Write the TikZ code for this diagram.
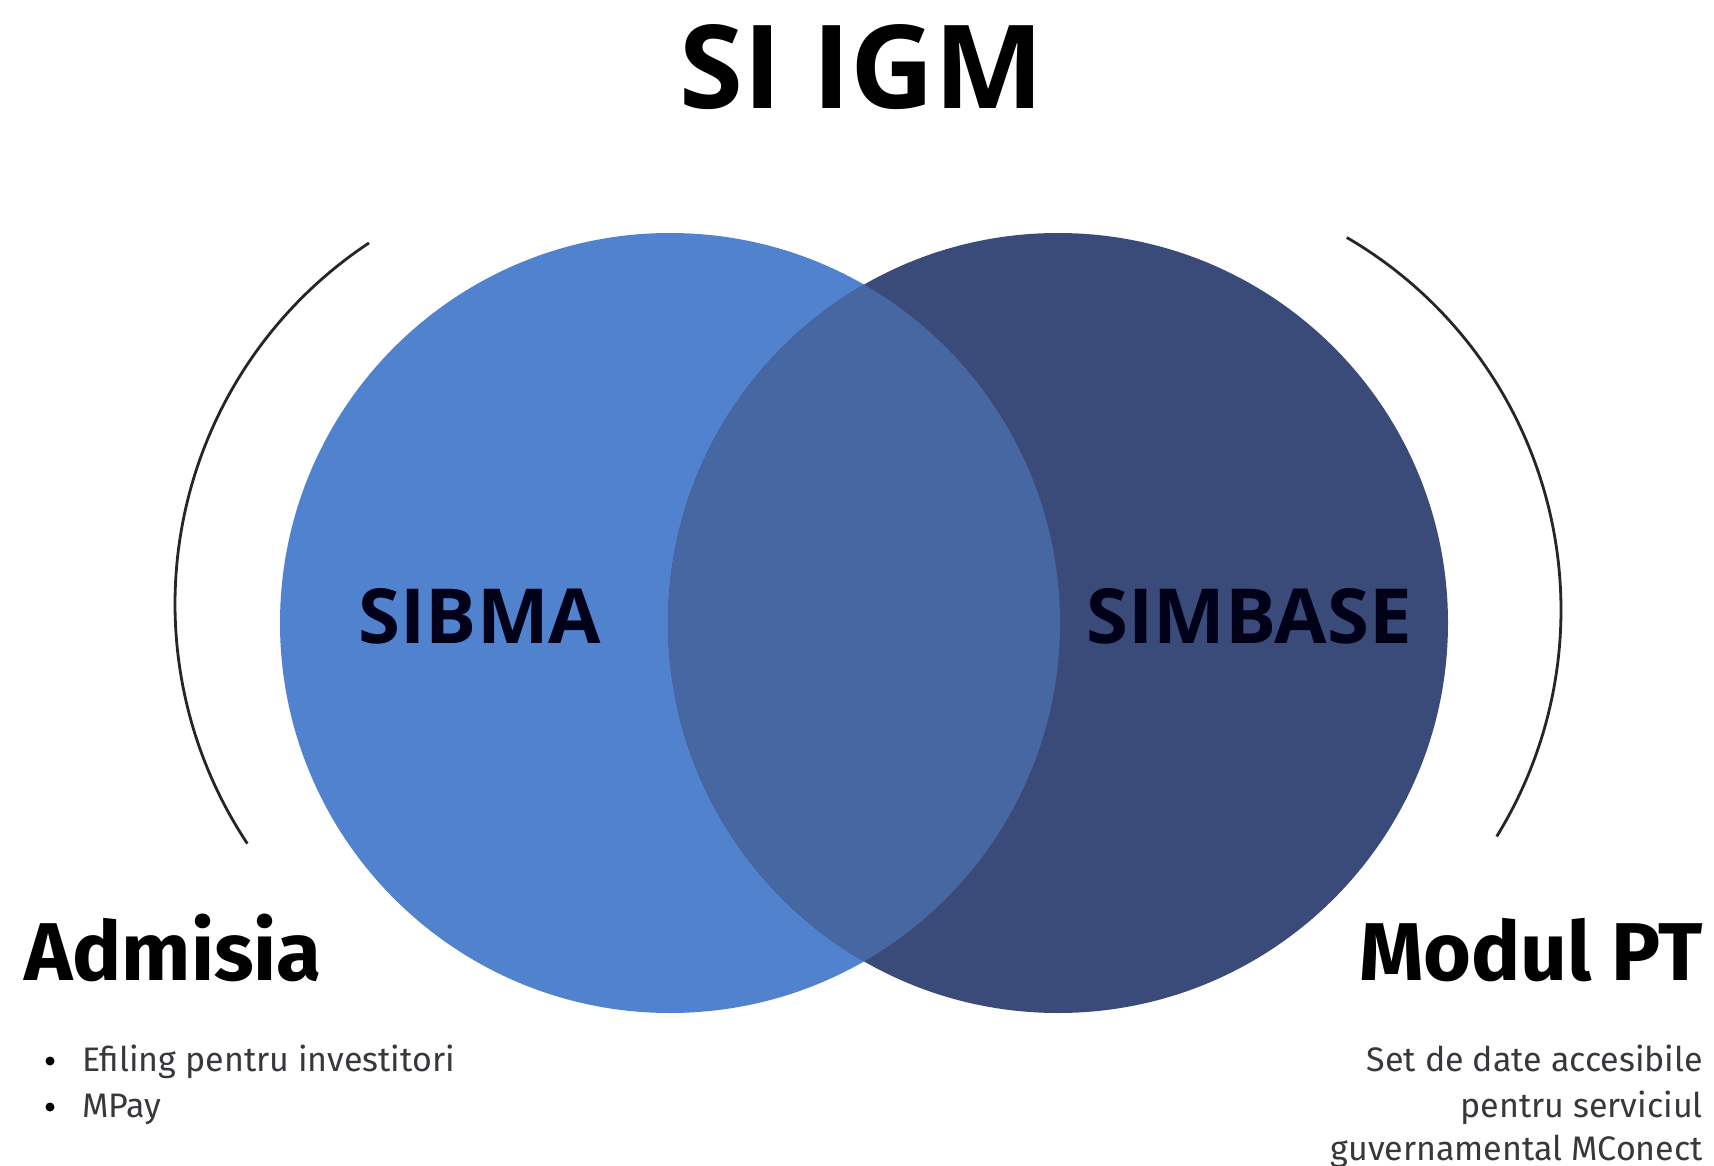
\documentclass[tikz,border=0pt]{standalone}
\usepackage{fontspec}
\setmainfont{Fira Sans}
\newfontfamily\headfont{Open Sans}
\definecolor{lblue}{RGB}{80,130,205}
\definecolor{dblue}{RGB}{58,75,121}
\definecolor{mblue}{RGB}{70,103,161}
\definecolor{bodygray}{RGB}{55,55,60}
\tikzset{
  bigtitle/.style={anchor=base, font=\headfont\bfseries\fontsize{116}{116}\selectfont, text=black, inner sep=0pt},
  circlabel/.style={anchor=base, font=\headfont\bfseries\fontsize{76}{76}\selectfont, text=black!90!blue, inner sep=0pt},
  sidehead/.style={font=\bfseries\fontsize{82}{82}\selectfont, text=black, inner sep=0pt},
  bodytext/.style={font=\fontsize{34}{34}\selectfont, text=bodygray, inner sep=0pt},
  bracket/.style={draw=black!85, line width=2.8pt}
}
\begin{document}
\begin{tikzpicture}[x=1pt,y=-1pt]
\useasboundingbox[fill=white] (0,0) rectangle (1714,1166);
% circles
\coordinate (cl) at (670,623);
\coordinate (cr) at (1058,623);
\fill[lblue] (cl) circle (390);
\fill[dblue] (cr) circle (390);
\begin{scope}
  \clip (cl) circle (390);
  \fill[mblue] (cr) circle (390);
\end{scope}
% brackets
\coordinate (al) at (608,604);
\coordinate (ar) at (1130,610);
\draw[bracket] (al) ++(-123.5:433) arc[start angle=-123.5, end angle=-213.6, radius=433];
\draw[bracket] (ar) ++(-59.8:431) arc[start angle=-59.8, end angle=31.7, radius=431];
% texts
\node[bigtitle] (title) at (862,109) {SI IGM};
\node[circlabel] (sibma) at (480,643) {SIBMA};
\node[circlabel] (simbase) at (1249,643) {SIMBASE};
\node[sidehead, anchor=base west] (admisia) at (24,980) {Admisia};
\node[sidehead, anchor=base east] (modul) at (1703,980) {Modul PT};
% bullets
\fill[black] (50,1061) circle (4.5);
\fill[black] (50,1107) circle (4.5);
\node[bodytext, anchor=base west] (b1) at (82,1071) {Efiling pentru investitori};
\node[bodytext, anchor=base west] (b2) at (82,1117) {MPay};
% right description
\node[bodytext, anchor=base east] (r1) at (1703,1071) {Set de date accesibile};
\node[bodytext, anchor=base east] (r2) at (1703,1117) {pentru serviciul};
\node[bodytext, anchor=base east] (r3) at (1703,1160) {guvernamental MConect};
\end{tikzpicture}
\end{document}
